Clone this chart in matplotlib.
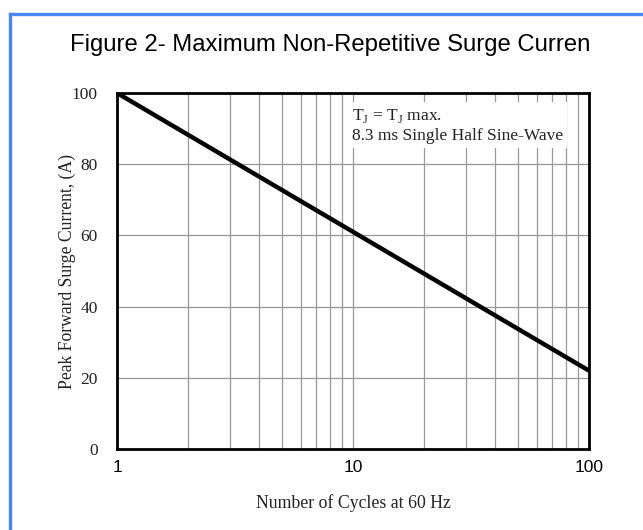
import numpy as np
import matplotlib
matplotlib.use('Agg')
import matplotlib.pyplot as plt
from matplotlib.lines import Line2D

# surge current vs cycles (straight line on semilog axes)
cycles = [1, 100]
current = [100, 22]

x_ticks = [1, 10, 100]
x_tick_labels = ['1', '10', '100']
y_ticks = [0, 20, 40, 60, 80, 100]
y_tick_labels = ['0', '20', '40', '60', '80', '100']

fig = plt.figure(figsize=(6.43, 5.30), dpi=100)
fig.patch.set_facecolor('white')

# blue frame (left and top only)
fig.add_artist(Line2D([9.5 / 643, 9.5 / 643], [0, 1 - 13.5 / 530],
                      color='#4a86f0', lw=2.4, transform=fig.transFigure))
fig.add_artist(Line2D([9.5 / 643, 1], [1 - 13.5 / 530, 1 - 13.5 / 530],
                      color='#4a86f0', lw=2.4, transform=fig.transFigure))

fig.text(0.513, 1 - 45 / 530, 'Figure 2- Maximum Non-Repetitive Surge Curren',
         ha='center', va='center', fontsize=17.2, family='Liberation Sans')

ax = fig.add_axes([117 / 643, 1 - 449 / 530, (589 - 117) / 643, (449 - 93) / 530])
ax.set_xscale('log')
ax.set_xlim(1, 100)
ax.set_ylim(0, 100)

ax.grid(True, which='both', axis='x', color='#999999', lw=0.9)
ax.grid(True, which='major', axis='y', color='#999999', lw=0.9)
ax.set_axisbelow(True)

ax.plot(cycles, current, color='black', lw=3.2, solid_capstyle='butt', zorder=3)

ax.set_xticks(x_ticks)
ax.set_xticklabels(x_tick_labels, family='Liberation Sans', fontsize=12.5)
ax.set_yticks(y_ticks)
ax.set_yticklabels(y_tick_labels, family='Liberation Serif', fontsize=12.5,
                   color='#222222')
ax.tick_params(which='both', length=0)
ax.tick_params(axis='x', pad=8)
ax.tick_params(axis='y', pad=14)

for s in ax.spines.values():
    s.set_linewidth(2)
    s.set_color('black')

ax.set_ylabel('Peak Forward Surge Current, (A)', family='Liberation Serif',
              fontsize=12.7, color='#222222', labelpad=-3)
ax.set_xlabel('Number of Cycles at 60 Hz', family='Liberation Serif',
              fontsize=12.8, color='#222222', labelpad=14)

ax.text(0.498, 0.96, r'T$_\mathregular{J}$ = T$_\mathregular{J}$ max.' + '\n8.3 ms Single Half Sine-Wave',
        transform=ax.transAxes, ha='left', va='top', family='Liberation Serif',
        fontsize=12.5, color='#222222', linespacing=1.2,
        bbox=dict(facecolor='white', edgecolor='none', pad=3), zorder=4)

fig.savefig('out.png', dpi=100)
